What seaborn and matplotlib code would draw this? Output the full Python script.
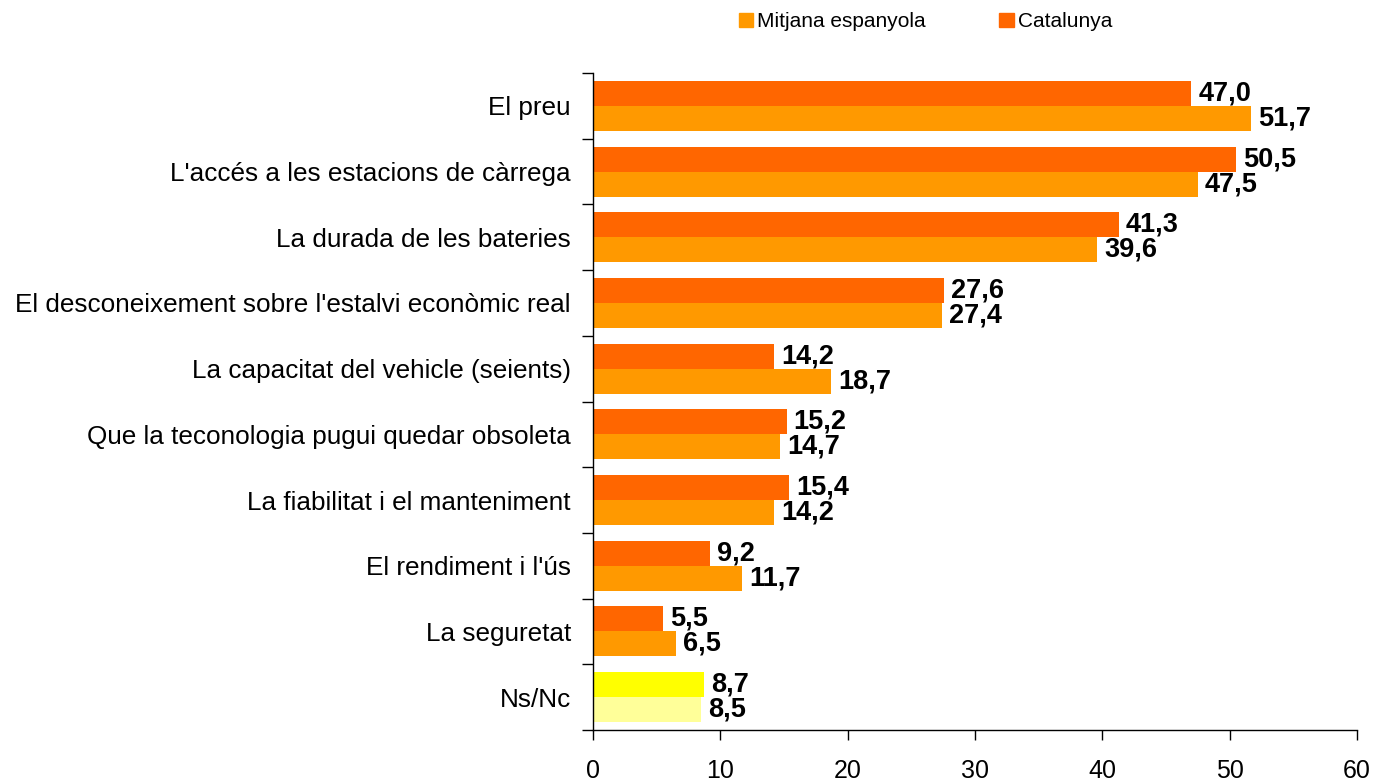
import pandas as pd
import matplotlib.pyplot as plt
import seaborn as sns
from matplotlib.patches import Patch
from matplotlib.ticker import FixedLocator

categories = [
    'El preu',
    "L'accés a les estacions de càrrega",
    'La durada de les bateries',
    "El desconeixement sobre l'estalvi econòmic real",
    'La capacitat del vehicle (seients)',
    'Que la teconologia pugui quedar obsoleta',
    'La fiabilitat i el manteniment',
    "El rendiment i l'ús",
    'La seguretat',
    'Ns/Nc',
]
catalunya = [47.0, 50.5, 41.3, 27.6, 14.2, 15.2, 15.4, 9.2, 5.5, 8.7]
mitjana = [51.7, 47.5, 39.6, 27.4, 18.7, 14.7, 14.2, 11.7, 6.5, 8.5]
series = ['Catalunya', 'Mitjana espanyola']
x_ticks = [0, 10, 20, 30, 40, 50, 60]

colors = {'Catalunya': '#FF6600', 'Mitjana espanyola': '#FF9900'}
nsnc_colors = {'Catalunya': '#FFFF00', 'Mitjana espanyola': '#FFFF99'}

df = pd.DataFrame({
    'Categoria': categories * 2,
    'Serie': ['Catalunya'] * len(categories) + ['Mitjana espanyola'] * len(categories),
    'Valor': catalunya + mitjana,
})

sns.set_style('white')
plt.rcParams['font.family'] = ['Liberation Sans', 'DejaVu Sans']
plt.rcParams['text.color'] = 'black'
plt.rcParams['xtick.color'] = 'black'
plt.rcParams['ytick.color'] = 'black'

fig, ax = plt.subplots(figsize=(13.75, 7.81), dpi=100)
sns.barplot(data=df, y='Categoria', x='Valor', hue='Serie', hue_order=series,
            order=categories, palette=colors, orient='h', width=0.76,
            saturation=1, linewidth=0, ax=ax, legend=False)

# recolor Ns/Nc bars and add value labels
for cont, name in zip(ax.containers, series):
    cont.patches[-1].set_facecolor(nsnc_colors[name])
    vals = df[df['Serie'] == name]['Valor'].tolist()
    ax.bar_label(cont, labels=[f'{v:.1f}'.replace('.', ',') for v in vals],
                 padding=5, fontsize=19.5, fontweight='bold', color='black')

ax.set_xlim(0, 60)
ax.set_ylim(len(categories) - 0.5, -0.5)
ax.set_xticks(x_ticks)
ax.set_xlabel('')
ax.set_ylabel('')
ax.tick_params(axis='x', bottom=True, direction='out', length=7, width=1,
               pad=14, labelsize=18, color='black', labelcolor='black')
ax.tick_params(axis='y', which='major', left=False, length=0, pad=16,
               labelsize=18.8, labelcolor='black')
ax.yaxis.set_minor_locator(FixedLocator([i - 0.5 for i in range(len(categories) + 1)]))
ax.tick_params(axis='y', which='minor', left=True, direction='out', length=8,
               width=1, color='black')

for s in ['top', 'right']:
    ax.spines[s].set_visible(False)
for s in ['left', 'bottom']:
    ax.spines[s].set_color('black')
    ax.spines[s].set_linewidth(1)

handles = [Patch(color=colors['Mitjana espanyola']), Patch(color=colors['Catalunya'])]
fig.legend(handles, ['Mitjana espanyola', 'Catalunya'], loc='center', ncol=2,
           bbox_to_anchor=(0.673, 0.972), frameon=False, fontsize=15,
           handlelength=0.7, handleheight=0.7, handletextpad=0.2, columnspacing=3.5)

plt.subplots_adjust(left=0.4313, right=0.9869, top=0.9065, bottom=0.0653)
plt.savefig('out.png', dpi=100)
